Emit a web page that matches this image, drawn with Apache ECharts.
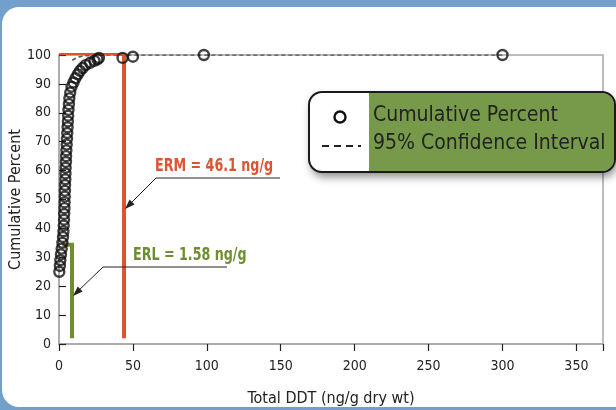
<!DOCTYPE html>
<html>
<head>
<meta charset="utf-8">
<script src="https://cdn.jsdelivr.net/npm/echarts@6/dist/echarts.min.js"></script>
<style>
html,body{margin:0;padding:0;width:616px;height:410px;overflow:hidden;background:#72a0cb;}
#panel{position:absolute;left:2px;top:7px;width:640px;height:400px;background:#fff;border-radius:17px 0 0 17px;}
#chart{position:absolute;left:0;top:0;width:616px;height:410px;}
</style>
</head>
<body>
<div id="panel"></div>
<div id="chart"></div>
<script>
// Cumulative percent data: total DDT (ng/g dry wt) vs cumulative percent
const ddtValues = [0.2,0.6,0.9,1.3,1.8,2.3,2.7,3.0,3.2,3.4,3.5,3.7,3.8,3.9,4.0,4.1,4.3,4.4,4.5,4.7,4.8,5.0,5.2,5.4,5.6,5.8,6.0,6.2,6.4,6.7,7.0,7.6,8.5,9.8,11.2,12.7,14.2,16,18,21,24,26,27,43,50,98,300];
const cumPercent = [25,27,29,31,33,35,37,39,41,43,45,47,49,51,53,55,57,59,61,63,65,67,69,71,73,75,77,79,81,83,85,87,89,90.5,92,93.3,94.5,95.5,96.5,97.3,98,98.5,99,99,99.4,100,100];
// 95% confidence interval (dashed)
const ciX = [9,13,18,25,300];
const ciY = [98.2,99.3,99.8,100,100];
// ERM / ERL guide lines (as drawn in the figure)
const ermX = [0,44,44];
const ermY = [100.6,100.6,2];
const erlX = [2.2,8.8,8.8];
const erlY = [34.3,34.3,2];
const xTicks = [0,50,100,150,200,250,300,350];
const yTicks = [0,10,20,30,40,50,60,70,80,90,100];

const FONT = "'DejaVu Sans Condensed','Liberation Sans Narrow',sans-serif";
const zip = (a,b)=>a.map((v,i)=>[v,b[i]]);

const chart = echarts.init(document.getElementById('chart'), null, {renderer:'canvas'});

function arrowHead(tx,ty,fx,fy,len,w){
  const dx=tx-fx, dy=ty-fy, L=Math.hypot(dx,dy), ux=dx/L, uy=dy/L;
  const bx=tx-ux*len, by=ty-uy*len, px=-uy*w, py=ux*w;
  return [[tx,ty],[bx+px,by+py],[bx-px,by-py]];
}

const option = {
  backgroundColor:'transparent',
  animation:false,
  grid:{left:59,top:55,width:544,height:289,show:true,containLabel:false,outerBoundsMode:'none',
        borderColor:'#a8a8a8',borderWidth:1.5,backgroundColor:'transparent'},
  xAxis:{
    type:'value',min:0,max:368,interval:50,
    name:'Total DDT (ng/g dry wt)',nameLocation:'middle',nameGap:47,nameMoveOverlap:false,
    nameTextStyle:{fontFamily:FONT,fontSize:16,color:'#222'},
    axisLine:{show:true,lineStyle:{color:'#a8a8a8',width:1.5}},
    axisTick:{show:true,inside:false,length:7,lineStyle:{color:'#222',width:1.2}},
    axisLabel:{fontFamily:FONT,fontSize:14,color:'#222',margin:15,
      formatter:v=>xTicks.includes(v)?String(v):''},
    splitLine:{show:false}
  },
  yAxis:{
    type:'value',min:0,max:100,interval:10,
    name:'Cumulative Percent',nameLocation:'middle',nameGap:35,nameRotate:90,nameMoveOverlap:false,
    nameTextStyle:{fontFamily:FONT,fontSize:16,color:'#222'},
    axisLine:{show:true,lineStyle:{color:'#a8a8a8',width:1.5}},
    axisTick:{show:true,inside:true,length:7,lineStyle:{color:'#222',width:1.2}},
    axisLabel:{fontFamily:FONT,fontSize:14,color:'#222',margin:8,
      formatter:v=>yTicks.includes(v)?String(v):''},
    splitLine:{show:false}
  },
  series:[
    {type:'line',data:zip(ciX,ciY),symbol:'none',z:2,
     lineStyle:{color:'#555',width:1.6,type:[4,3]}},
    {type:'line',data:zip(ermX,ermY),symbol:'none',z:3,
     lineStyle:{color:'#dc5430',width:4,cap:'butt',join:'miter'}},
    {type:'line',data:zip(erlX,erlY),symbol:'none',z:3,
     lineStyle:{color:'#6f8e2f',width:4,cap:'butt',join:'miter'}},
    {type:'scatter',data:zip(ddtValues,cumPercent),symbol:'circle',symbolSize:10,z:4,
     itemStyle:{color:'rgba(255,255,255,0)',borderColor:'#111',borderWidth:2.4}}
  ],
  graphic:[
    // ERM annotation
    {type:'text',x:155,y:158,scaleX:0.83,z:50,style:{text:'ERM = 46.1 ng/g',fontFamily:FONT,fontSize:17,fontWeight:'bold',fill:'#dc5430'}},
    {type:'polyline',z:50,shape:{points:[[280,178],[156,178],[128,206]]},style:{stroke:'#222',lineWidth:1,fill:null}},
    {type:'polygon',z:50,shape:{points:arrowHead(125,209,156,178,10,3.5)},style:{fill:'#222'}},
    // ERL annotation
    {type:'text',x:133,y:247,scaleX:0.83,z:50,style:{text:'ERL = 1.58 ng/g',fontFamily:FONT,fontSize:17,fontWeight:'bold',fill:'#6f8e2f'}},
    {type:'polyline',z:50,shape:{points:[[227,267],[103,267],[76,293]]},style:{stroke:'#222',lineWidth:1,fill:null}},
    {type:'polygon',z:50,shape:{points:arrowHead(73,296,103,267,10,3.5)},style:{fill:'#222'}},
    // Legend box
    {type:'rect',z:60,shape:{x:309,y:92,width:306,height:80,r:13},
     style:{fill:'#fff',shadowBlur:8,shadowOffsetX:2,shadowOffsetY:5,shadowColor:'rgba(0,0,0,0.45)'}},
    {type:'rect',z:61,shape:{x:369,y:93,width:245,height:78,r:[0,12,12,0]},style:{fill:'#779a4a'}},
    {type:'rect',z:62,shape:{x:309,y:92,width:306,height:80,r:13},style:{fill:null,stroke:'#1a1a1a',lineWidth:2}},
    {type:'circle',z:63,shape:{cx:340,cy:117,r:5.5},style:{fill:null,stroke:'#111',lineWidth:2.4}},
    {type:'line',z:63,shape:{x1:322,y1:146,x2:361,y2:146},style:{stroke:'#222',lineWidth:2,lineDash:[7,5]}},
    {type:'text',x:373,y:105,z:63,style:{text:'Cumulative Percent',fontFamily:FONT,fontSize:21,fill:'#222'}},
    {type:'text',x:373,y:133,z:63,style:{text:'95% Confidence Interval',fontFamily:FONT,fontSize:21,fill:'#222'}}
  ]
};
chart.setOption(option);
</script>
</body>
</html>
